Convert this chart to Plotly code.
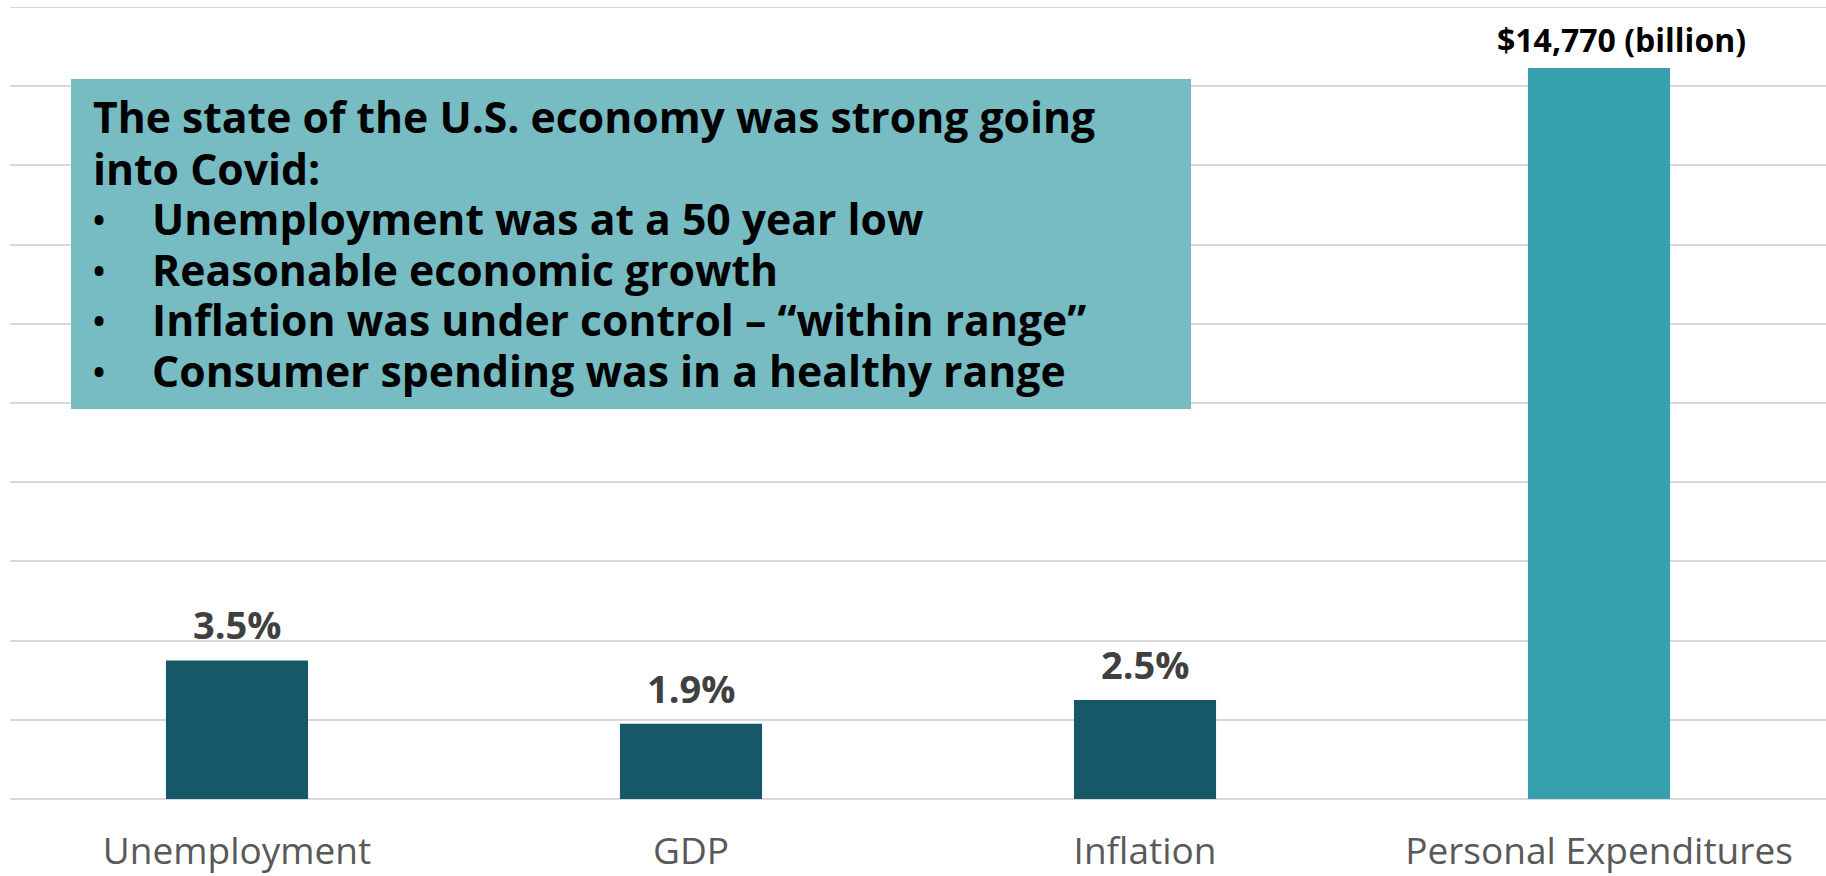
import plotly.graph_objects as go

# Pre-Covid indicators
rate_categories = ["Unemployment", "GDP", "Inflation"]
rate_values = [3.5, 1.9, 2.5]
rate_labels = ["3.5%", "1.9%", "2.5%"]

spend_category = ["Personal Expenditures"]
spend_values = [14770]
spend_labels = ["$14,770 (billion)"]

all_categories = rate_categories + spend_category

callout_heading = ["The state of the U.S. economy was strong going", "into Covid:"]
callout_bullets = [
    "Unemployment was at a 50 year low",
    "Reasonable economic growth",
    "Inflation was under control \u2013 \u201cwithin range\u201d",
    "Consumer spending was in a healthy range",
]

DARK = "#175868"
LIGHT = "#37A0AE"
BOX = "#77BBC3"
GRID = "#D9D9D9"
FONT = "Open Sans"

W, H = 1826, 876
M_L, M_R, M_T, M_B = 10, 0, 7, 77
PW = W - M_L - M_R
PH = H - M_T - M_B


def px_x(x):
    return (x - M_L) / PW


def px_y(y):
    return (H - M_B - y) / PH


fig = go.Figure()

fig.add_trace(go.Bar(
    x=rate_categories, y=rate_values, marker_color=DARK,
    marker_line_width=0, width=0.313, yaxis="y", showlegend=False,
))
fig.add_trace(go.Bar(
    x=spend_category, y=spend_values, marker_color=LIGHT,
    marker_line_width=0, width=0.313, yaxis="y2", showlegend=False,
))

annotations = []
for cat, val, lab in zip(rate_categories, rate_values, rate_labels):
    annotations.append(dict(
        x=cat, y=val, xref="x", yref="y", text=f"<b>{lab}</b>",
        showarrow=False, yanchor="middle", yshift=36,
        font=dict(family=FONT, size=38, color="#404040"),
    ))
for cat, val, lab in zip(spend_category, spend_values, spend_labels):
    annotations.append(dict(
        x=cat, y=val, xref="x", yref="y2", text=f"<b>{lab}</b>",
        showarrow=False, yanchor="middle", yshift=28, xshift=22,
        font=dict(family=FONT, size=32, color="#000000"),
    ))

# Callout text, one annotation per line with tight line spacing
line_centers = [117, 168, 218, 269, 319, 370]
heading_font = dict(family=FONT, size=42.7, color="#000000")
for i, txt in enumerate(callout_heading):
    annotations.append(dict(
        x=px_x(91), y=px_y(line_centers[i]), xref="paper", yref="paper",
        text=f"<b>{txt}</b>", showarrow=False, xanchor="left", yanchor="middle",
        font=heading_font,
    ))
for j, txt in enumerate(callout_bullets):
    yc = px_y(line_centers[j + 2])
    annotations.append(dict(
        x=px_x(99), y=yc, xref="paper", yref="paper", text="\u2022",
        showarrow=False, xanchor="center", yanchor="middle", font=heading_font,
    ))
    annotations.append(dict(
        x=px_x(150), y=yc, xref="paper", yref="paper", text=f"<b>{txt}</b>",
        showarrow=False, xanchor="left", yanchor="middle", font=heading_font,
    ))

# top gridline at the end of the primary range
fig.add_shape(
    type="line", xref="paper", yref="y", x0=0, x1=1, y0=20, y1=20,
    line=dict(color=GRID, width=2), layer="below",
)

fig.add_shape(
    type="rect", xref="paper", yref="paper",
    x0=px_x(71), x1=px_x(1191), y0=px_y(409), y1=px_y(79),
    fillcolor=BOX, line_width=0, layer="above",
)

fig.update_layout(
    width=W, height=H,
    margin=dict(l=M_L, r=M_R, t=M_T, b=M_B, pad=0),
    paper_bgcolor="white", plot_bgcolor="white",
    barmode="overlay",
    xaxis=dict(
        categoryorder="array", categoryarray=all_categories,
        range=[-0.5, 3.5], showgrid=False, zeroline=False, showline=False,
        ticks="", tickfont=dict(family=FONT, size=37, color="#595959"),
        ticklabelstandoff=27,
    ),
    yaxis=dict(
        range=[0, 20], dtick=2, showticklabels=False, showgrid=True,
        gridcolor=GRID, gridwidth=2, zeroline=True,
        zerolinecolor=GRID, zerolinewidth=2, showline=False, ticks="",
    ),
    yaxis2=dict(
        range=[0, 16000], overlaying="y", side="right", showgrid=False,
        showticklabels=False, zeroline=False, showline=False, ticks="",
    ),
    annotations=annotations,
)

fig.write_html("out.html")
